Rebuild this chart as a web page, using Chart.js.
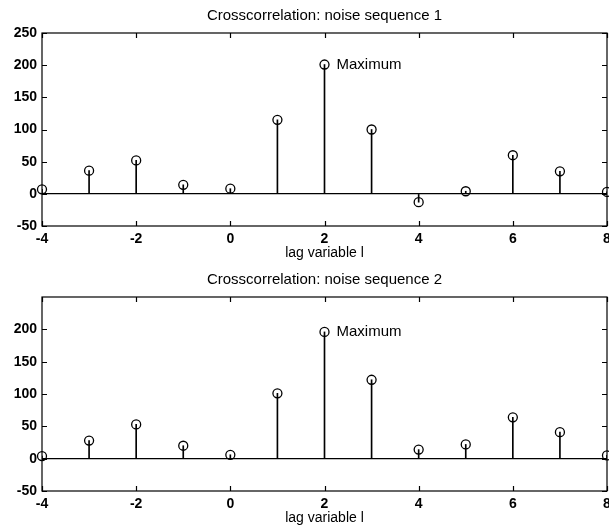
<!DOCTYPE html>
<html>
<head>
<meta charset="utf-8">
<script src="https://cdn.jsdelivr.net/npm/chart.js@4"></script>
<style>
  html, body { margin: 0; padding: 0; background: #fff; }
  canvas { display: block; }
</style>
</head>
<body>
<canvas id="chart-1" width="609" height="264"></canvas>
<canvas id="chart-2" width="609" height="265"></canvas>
<script>
const LAGS = [-4, -3, -2, -1, 0, 1, 2, 3, 4, 5, 6, 7, 8]
const SEQ_1 = [7, 36, 52, 14, 8, 115, 201, 100, -13, 4, 60, 35, 3]
const SEQ_2 = [4, 28, 53, 20, 6, 101, 196, 122, 14, 22, 64, 41, 5]
const X_TICKS = [-4, -2, 0, 2, 4, 6, 8]
const Y_TICKS_1 = [-50, 0, 50, 100, 150, 200, 250]
const Y_TICKS_2 = [-50, 0, 50, 100, 150, 200]
const TITLES = ["Crosscorrelation: noise sequence 1", "Crosscorrelation: noise sequence 2"]
const X_LABEL = "lag variable l"
const MAX_LABEL = "Maximum"

const FONT = "'Liberation Sans', Arial, Helvetica, sans-serif"

// box round the plot, with the little ticks pointing inwards
const framePlugin = {
  id: 'frame',
  afterDraw(chart) {
    const {ctx, chartArea: a, scales: {x, y}} = chart
    ctx.save()
    ctx.strokeStyle = '#000'
    ctx.lineWidth = 1.2
    ctx.strokeRect(a.left, a.top, a.width, a.height)
    ctx.beginPath()
    x.ticks.forEach(t => {
      const px = Math.round(x.getPixelForValue(t.value)) + 0.5
      ctx.moveTo(px, a.bottom); ctx.lineTo(px, a.bottom - 5)
      ctx.moveTo(px, a.top); ctx.lineTo(px, a.top + 5)
    })
    y.ticks.forEach(t => {
      const py = Math.round(y.getPixelForValue(t.value)) + 0.5
      ctx.moveTo(a.left, py); ctx.lineTo(a.left + 5, py)
      ctx.moveTo(a.right, py); ctx.lineTo(a.right - 5, py)
    })
    ctx.stroke()
    ctx.restore()
  }
}

// text next to the biggest value
const maxPlugin = {
  id: 'maxLabel',
  afterDatasetsDraw(chart) {
    const values = chart.data.datasets[1].data
    let best = values[0]
    values.forEach(p => { if (p.y > best.y) best = p })
    const {ctx, scales: {x, y}} = chart
    ctx.save()
    ctx.fillStyle = '#000'
    ctx.font = '15px ' + FONT
    ctx.textBaseline = 'middle'
    ctx.fillText(MAX_LABEL, x.getPixelForValue(best.x) + 12, y.getPixelForValue(best.y))
    ctx.restore()
  }
}

const makeChart = (id, title, values, yTicks) => {
  const points = LAGS.map((l, i) => ({x: l, y: values[i]}))
  return new Chart(document.getElementById(id), {
    type: 'bar',
    data: {
      datasets: [
        {
          type: 'bar',
          data: points,
          backgroundColor: '#000',
          barThickness: 1,
          borderWidth: 0
        },
        {
          type: 'line',
          data: points,
          showLine: false,
          pointRadius: 4.5,
          pointBorderWidth: 1.3,
          pointBorderColor: '#000',
          pointBackgroundColor: 'rgba(0,0,0,0)',
          clip: false
        }
      ]
    },
    options: {
      responsive: false,
      animation: false,
      devicePixelRatio: 1,
      layout: {autoPadding: false, padding: {left: 0, right: 2, top: 0, bottom: 0}},
      plugins: {
        legend: {display: false},
        tooltip: {enabled: false},
        title: {
          display: true,
          text: title,
          fullSize: false,
          color: '#000',
          font: {family: FONT, size: 15, weight: 'normal'},
          padding: {top: 7, bottom: 8}
        }
      },
      scales: {
        x: {
          type: 'linear',
          min: -4,
          max: 8,
          offset: false,
          afterBuildTicks: s => { s.ticks = X_TICKS.map(v => ({value: v})) },
          afterFit: s => {
            s.height = 38
            s.paddingLeft = 0
            s.paddingRight = 0
          },
          grid: {display: false, drawTicks: false, tickLength: 0},
          border: {display: false},
          ticks: {
            color: '#000',
            padding: 5,
            maxRotation: 0,
            font: {family: FONT, size: 14, weight: 'bold'}
          },
          title: {
            display: true,
            text: X_LABEL,
            color: '#000',
            padding: {top: 0, bottom: 2},
            font: {family: FONT, size: 14, weight: 'normal'}
          }
        },
        y: {
          min: -50,
          max: 250,
          afterBuildTicks: s => { s.ticks = yTicks.map(v => ({value: v})) },
          afterFit: s => { s.width = 42 },
          grid: {
            drawTicks: false,
            lineWidth: 1.2,
            color: c => c.tick && c.tick.value === 0 ? '#000' : 'rgba(0,0,0,0)'
          },
          border: {display: false},
          ticks: {
            color: '#000',
            padding: 5,
            font: {family: FONT, size: 14, weight: 'bold'}
          }
        }
      }
    },
    plugins: [framePlugin, maxPlugin]
  })
}

makeChart('chart-1', TITLES[0], SEQ_1, Y_TICKS_1)
makeChart('chart-2', TITLES[1], SEQ_2, Y_TICKS_2)
</script>
</body>
</html>
